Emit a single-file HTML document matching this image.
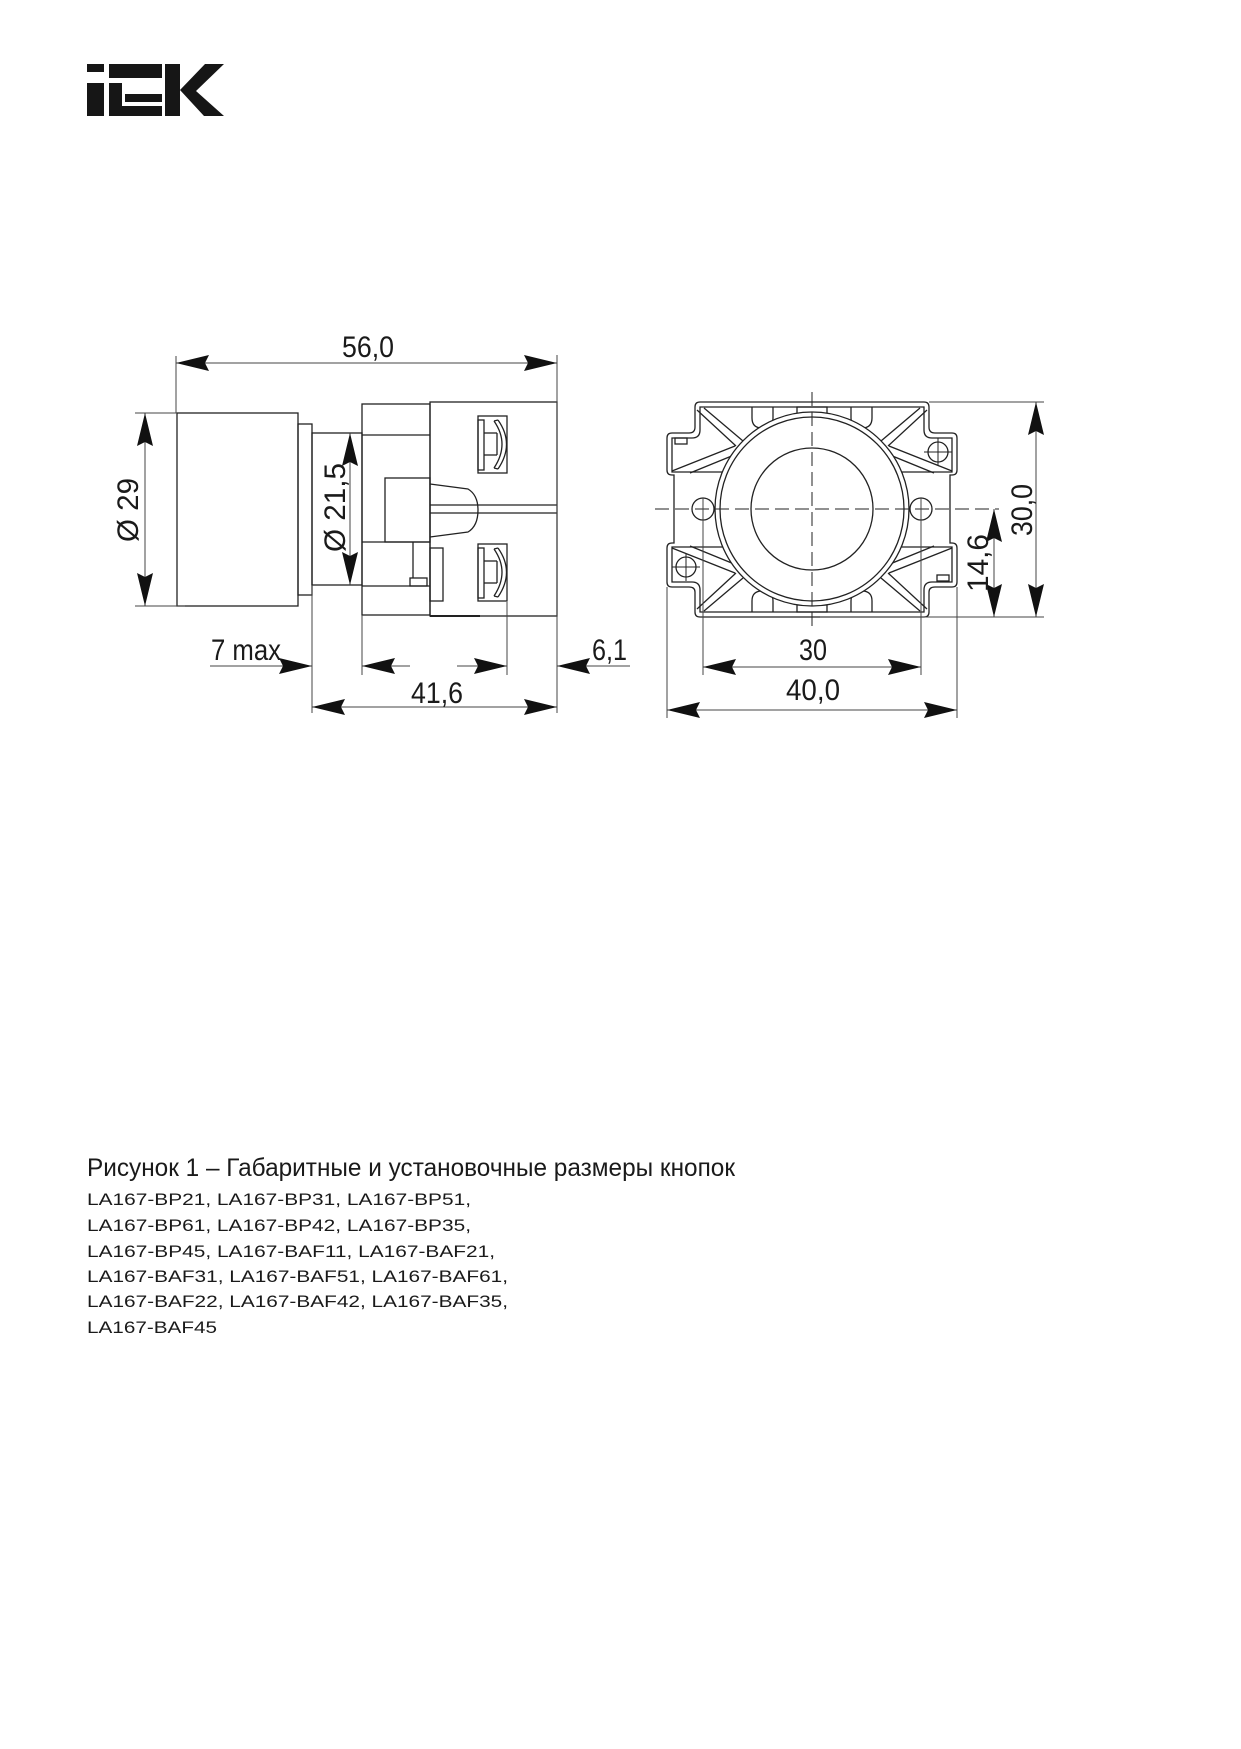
<!DOCTYPE html>
<html><head><meta charset="utf-8"><style>
html,body{margin:0;padding:0;background:#fff}
svg{display:block}
text{font-family:"Liberation Sans",sans-serif;fill:#1a1a1a}
</style></head><body>
<svg width="1241" height="1749" viewBox="0 0 1241 1749" xmlns="http://www.w3.org/2000/svg">
<defs>
<path id="ar" d="M0,0 L-33,-8 L-29,0 L-33,8 Z" fill="#111"/>
<g id="rib">
<line x1="697" y1="410" x2="736" y2="446"/>
<line x1="704" y1="408" x2="743" y2="441"/>
<line x1="672" y1="471" x2="735" y2="446"/>
<line x1="690" y1="473" x2="739" y2="453"/>
<path d="M752,407 V418 Q752,428 762,428 Q773,428 773,418 V407"/>
</g>
</defs>

<!-- logo -->
<g fill="#161616">
<rect x="87" y="64" width="17" height="8"/>
<rect x="87" y="83" width="17" height="33"/>
<rect x="109" y="64" width="53" height="14"/>
<rect x="109" y="83" width="13" height="33"/>
<rect x="125" y="94" width="37" height="8"/>
<rect x="109" y="106" width="53" height="10"/>
<rect x="165" y="64" width="15" height="52"/>
<polygon points="180,90 205,64 224,64 196,91 224,116 204,116"/>
</g>

<g stroke="#222" stroke-width="1.3" fill="none">
<!-- left view body -->
<rect x="177" y="413" width="121" height="193"/>
<rect x="298" y="424" width="14" height="171"/>
<rect x="312" y="433" width="50" height="152"/>
<rect x="362" y="404" width="68" height="211"/>
<rect x="430" y="402" width="127" height="214"/>
<line x1="362" y1="435" x2="430" y2="435"/>
<rect x="385" y="478" width="45" height="64"/>
<line x1="362" y1="542" x2="430" y2="542"/>
<line x1="362" y1="586" x2="430" y2="586"/>
<line x1="413" y1="542" x2="413" y2="578"/>
<rect x="410" y="578" width="17" height="8"/>
<path d="M430,484 L468,489 Q478,495 478,510 Q478,526 468,532 L430,537"/>
<line x1="430" y1="505" x2="557" y2="505"/>
<line x1="430" y1="513" x2="557" y2="513"/>
<rect x="430" y="548" width="13" height="53"/>
<line x1="430" y1="616" x2="480" y2="616" stroke-width="2"/>
<!-- contacts -->
<g>
<rect x="478" y="416" width="29" height="57"/>
<rect x="478" y="420" width="6" height="50"/>
<line x1="484" y1="433" x2="497" y2="433"/><line x1="484" y1="455" x2="497" y2="455"/>
<line x1="497" y1="433" x2="497" y2="455"/>
<path d="M494,421 Q510,444 494,468 M498,420 Q515,444 498,469 M494,421 L498,420 M494,468 L498,469"/>
</g>
<g transform="translate(0,128)">
<rect x="478" y="416" width="29" height="57"/>
<rect x="478" y="420" width="6" height="50"/>
<line x1="484" y1="433" x2="497" y2="433"/><line x1="484" y1="455" x2="497" y2="455"/>
<line x1="497" y1="433" x2="497" y2="455"/>
<path d="M494,421 Q510,444 494,468 M498,420 Q515,444 498,469 M494,421 L498,420 M494,468 L498,469"/>
</g>
</g>

<!-- left view dimension lines -->
<g stroke="#444" stroke-width="1" fill="none">
<line x1="176" y1="356" x2="176" y2="413"/>
<line x1="557" y1="355" x2="557" y2="713"/>
<line x1="176" y1="363" x2="557" y2="363"/>
<line x1="135" y1="413" x2="177" y2="413"/>
<line x1="135" y1="606" x2="185" y2="606"/>
<line x1="145" y1="413" x2="145" y2="606"/>
<line x1="350" y1="433" x2="350" y2="585"/>
<line x1="312" y1="585" x2="312" y2="713"/>
<line x1="362" y1="615" x2="362" y2="675"/>
<line x1="507" y1="602" x2="507" y2="675"/>
<line x1="210" y1="666" x2="312" y2="666"/>
<line x1="362" y1="666" x2="410" y2="666"/>
<line x1="457" y1="666" x2="507" y2="666"/>
<line x1="557" y1="666" x2="630" y2="666"/>
<line x1="312" y1="707" x2="557" y2="707"/>
</g>
<use href="#ar" transform="translate(176,363) rotate(180)"/>
<use href="#ar" transform="translate(557,363)"/>
<use href="#ar" transform="translate(145,413) rotate(-90)"/>
<use href="#ar" transform="translate(145,606) rotate(90)"/>
<use href="#ar" transform="translate(350,433) rotate(-90)"/>
<use href="#ar" transform="translate(350,585) rotate(90)"/>
<use href="#ar" transform="translate(312,666)"/>
<use href="#ar" transform="translate(362,666) rotate(180)"/>
<use href="#ar" transform="translate(507,666)"/>
<use href="#ar" transform="translate(557,666) rotate(180)"/>
<use href="#ar" transform="translate(312,707) rotate(180)"/>
<use href="#ar" transform="translate(557,707)"/>

<g font-size="30">
<text x="342" y="357" textLength="52" lengthAdjust="spacingAndGlyphs">56,0</text>
<text x="211" y="660" textLength="70" lengthAdjust="spacingAndGlyphs">7 max</text>
<text x="592" y="660" textLength="35" lengthAdjust="spacingAndGlyphs">6,1</text>
<text x="411" y="703" textLength="52" lengthAdjust="spacingAndGlyphs">41,6</text>
<text transform="translate(138,542) rotate(-90)" textLength="64" lengthAdjust="spacingAndGlyphs">Ø 29</text>
<text transform="translate(345,552) rotate(-90)" textLength="89" lengthAdjust="spacingAndGlyphs">Ø 21,5</text>
</g>

<!-- right view -->
<g stroke="#222" stroke-width="1.3" fill="none">
<path d="M700,402 H924 Q929,402 929,407 V427 Q929,433 935,433 H952 Q957,433 957,438 V470 Q957,475 952,475 H950 V543 H952 Q957,543 957,548 V582 Q957,587 952,587 H935 Q929,587 929,592 V612 Q929,617 924,617 H700 Q695,617 695,612 V592 Q695,587 689,587 H672 Q667,587 667,582 V548 Q667,543 672,543 H674 V475 H672 Q667,475 667,470 V438 Q667,433 672,433 H689 Q695,433 695,427 V407 Q695,402 700,402 Z"/>
<path d="M700,407 H924 V430 Q924,438 932,438 H952 V472 H672 V438 H692 Q700,438 700,430 Z"/>
<path d="M700,612 H924 V590 Q924,582 932,582 H952 V547 H672 V582 H692 Q700,582 700,590 Z"/>
<g><use href="#rib"/></g>
<g transform="translate(1624,0) scale(-1,1)"><use href="#rib"/></g>
<g transform="translate(0,1019) scale(1,-1)"><use href="#rib"/></g>
<g transform="translate(1624,1019) scale(-1,-1)"><use href="#rib"/></g>
<rect x="797" y="407" width="30" height="7"/>
<rect x="797" y="605" width="30" height="7"/>
<rect x="675" y="438" width="12" height="6"/>
<rect x="937" y="575" width="12" height="6"/>
<circle cx="703" cy="509" r="11"/>
<circle cx="921" cy="509" r="11"/>
<circle cx="938" cy="452" r="10"/>
<circle cx="686" cy="567" r="10"/>
<circle cx="812" cy="509" r="97" fill="#fff"/>
<circle cx="812" cy="509" r="92"/>
<circle cx="812" cy="509" r="61"/>
</g>
<g stroke="#222" stroke-width="1" fill="none">
<line x1="812" y1="392" x2="812" y2="628" stroke-dasharray="14,6"/>
<line x1="655" y1="509" x2="999" y2="509" stroke-dasharray="14,6"/>
<line x1="924" y1="452" x2="952" y2="452"/><line x1="938" y1="438" x2="938" y2="466"/>
<line x1="672" y1="567" x2="700" y2="567"/><line x1="686" y1="553" x2="686" y2="581"/>
</g>
<g stroke="#444" stroke-width="1" fill="none">
<line x1="703" y1="498" x2="703" y2="675"/>
<line x1="921" y1="498" x2="921" y2="675"/>
<line x1="667" y1="587" x2="667" y2="718"/>
<line x1="957" y1="587" x2="957" y2="718"/>
<line x1="703" y1="667" x2="921" y2="667"/>
<line x1="667" y1="710" x2="957" y2="710"/>
<line x1="929" y1="402" x2="1044" y2="402"/>
<line x1="820" y1="617" x2="1044" y2="617"/>
<line x1="1036" y1="402" x2="1036" y2="617"/>
<line x1="994" y1="509" x2="994" y2="617"/>
</g>
<use href="#ar" transform="translate(703,667) rotate(180)"/>
<use href="#ar" transform="translate(921,667)"/>
<use href="#ar" transform="translate(667,710) rotate(180)"/>
<use href="#ar" transform="translate(957,710)"/>
<use href="#ar" transform="translate(1036,402) rotate(-90)"/>
<use href="#ar" transform="translate(1036,617) rotate(90)"/>
<use href="#ar" transform="translate(994,509) rotate(-90)"/>
<use href="#ar" transform="translate(994,617) rotate(90)"/>
<g font-size="30">
<text x="799" y="660" textLength="28" lengthAdjust="spacingAndGlyphs">30</text>
<text x="786" y="700" textLength="54" lengthAdjust="spacingAndGlyphs">40,0</text>
<text transform="translate(1032,536) rotate(-90)" textLength="52" lengthAdjust="spacingAndGlyphs">30,0</text>
<text transform="translate(988,592) rotate(-90)" textLength="58" lengthAdjust="spacingAndGlyphs">14,6</text>
</g>

<!-- caption -->
<text x="87" y="1176" font-size="25" textLength="648" lengthAdjust="spacingAndGlyphs">Рисунок 1 – Габаритные и установочные размеры кнопок</text>
<g font-size="17">
<text x="87" y="1205" textLength="384" lengthAdjust="spacingAndGlyphs">LA167-BP21, LA167-BP31, LA167-BP51,</text>
<text x="87" y="1231" textLength="384" lengthAdjust="spacingAndGlyphs">LA167-BP61, LA167-BP42, LA167-BP35,</text>
<text x="87" y="1257" textLength="408" lengthAdjust="spacingAndGlyphs">LA167-BP45, LA167-BAF11, LA167-BAF21,</text>
<text x="87" y="1282" textLength="421" lengthAdjust="spacingAndGlyphs">LA167-BAF31, LA167-BAF51, LA167-BAF61,</text>
<text x="87" y="1307" textLength="421" lengthAdjust="spacingAndGlyphs">LA167-BAF22, LA167-BAF42, LA167-BAF35,</text>
<text x="87" y="1333" textLength="130" lengthAdjust="spacingAndGlyphs">LA167-BAF45</text>
</g>
</svg>
</body></html>
